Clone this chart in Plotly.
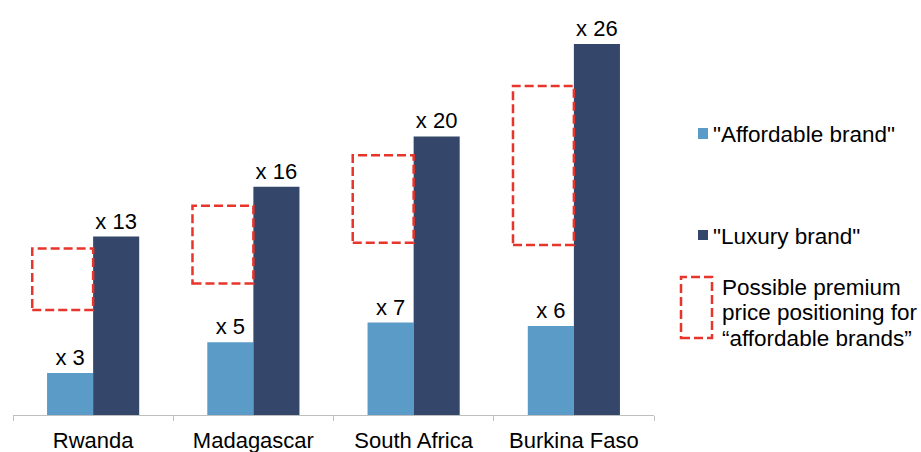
import plotly.graph_objects as go

categories = ["Rwanda", "Madagascar", "South Africa", "Burkina Faso"]
affordable = [3.0, 5.2, 6.6, 6.35]
luxury = [12.75, 16.3, 19.9, 26.5]
affordable_labels = ["x 3", "x 5", "x 7", "x 6"]
luxury_labels = ["x 13", "x 16", "x 20", "x 26"]
premium_low = [7.5, 9.4, 12.3, 12.15]
premium_high = [11.9, 14.95, 18.55, 23.5]

W, H = 921, 452
ML, MR, MT, MB = 13, 267, 20, 37
FONT = "Arial, 'Liberation Sans', sans-serif"
BLUE = "#5b9bc7"
NAVY = "#344669"
RED = "#e8352b"


def px2paper(px, py):
    return (px - ML) / (W - ML - MR), (H - MB - py) / (H - MT - MB)


fig = go.Figure()
fig.add_trace(go.Bar(
    x=categories, y=affordable, name='"Affordable brand"',
    marker=dict(color=BLUE, line=dict(width=0)),
    text=affordable_labels, textposition="outside", cliponaxis=False,
    textfont=dict(size=22, color="black", family=FONT), constraintext="none",
    showlegend=False,
))
fig.add_trace(go.Bar(
    x=categories, y=luxury, name='"Luxury brand"',
    marker=dict(color=NAVY, line=dict(width=0)),
    text=luxury_labels, textposition="outside", cliponaxis=False,
    textfont=dict(size=22, color="black", family=FONT), constraintext="none",
    showlegend=False,
))

# dashed premium-positioning boxes
for i, (lo, hi) in enumerate(zip(premium_low, premium_high)):
    fig.add_shape(type="rect", xref="x", yref="y",
                  x0=i - 0.38, x1=i + 0.0, y0=lo, y1=hi,
                  line=dict(color=RED, width=2.5, dash="9px,4px"),
                  fillcolor="rgba(0,0,0,0)", layer="above")

# custom legend
def add_square(x0, y0, x1, y1, **kw):
    a0, b0 = px2paper(x0, y1)
    a1, b1 = px2paper(x1, y0)
    fig.add_shape(type="rect", xref="paper", yref="paper",
                  x0=a0, y0=b0, x1=a1, y1=b1, **kw)


def add_text(px, py, txt):
    a, b = px2paper(px, py)
    fig.add_annotation(xref="paper", yref="paper", x=a, y=b, text=txt,
                       showarrow=False, xanchor="left", yanchor="middle",
                       font=dict(size=22.5, color="black", family=FONT))


add_square(698, 128, 708, 139, fillcolor=BLUE, line=dict(width=0))
add_text(711, 134, '"Affordable brand"')
add_square(698, 230, 708, 240, fillcolor=NAVY, line=dict(width=0))
add_text(711, 236, '"Luxury brand"')
add_square(681, 277, 712, 338, fillcolor="rgba(0,0,0,0)",
           line=dict(color=RED, width=2.5, dash="9px,4px"))
add_text(720, 287, "Possible premium")
add_text(720, 312, "price positioning for")
add_text(720, 338, "“affordable brands”")

fig.update_layout(
    width=W, height=H,
    margin=dict(l=ML, r=MR, t=MT, b=MB, autoexpand=False),
    paper_bgcolor="white", plot_bgcolor="white",
    barmode="group", bargap=0.425, bargroupgap=0,
    font=dict(family=FONT, size=22, color="black"),
    xaxis=dict(range=[-0.5, 3.5], showline=True, linecolor="#bfbfbf", linewidth=1,
               ticks="outside", tickson="boundaries", ticklen=5, tickcolor="#bfbfbf",
               showgrid=False, automargin=False, ticklabelstandoff=6,
               tickfont=dict(size=22, color="black", family=FONT)),
    yaxis=dict(range=[0, (H - MT - MB) / 14.0], visible=False, showgrid=False,
               zeroline=False, automargin=False),
)

fig.write_html("out.html")
